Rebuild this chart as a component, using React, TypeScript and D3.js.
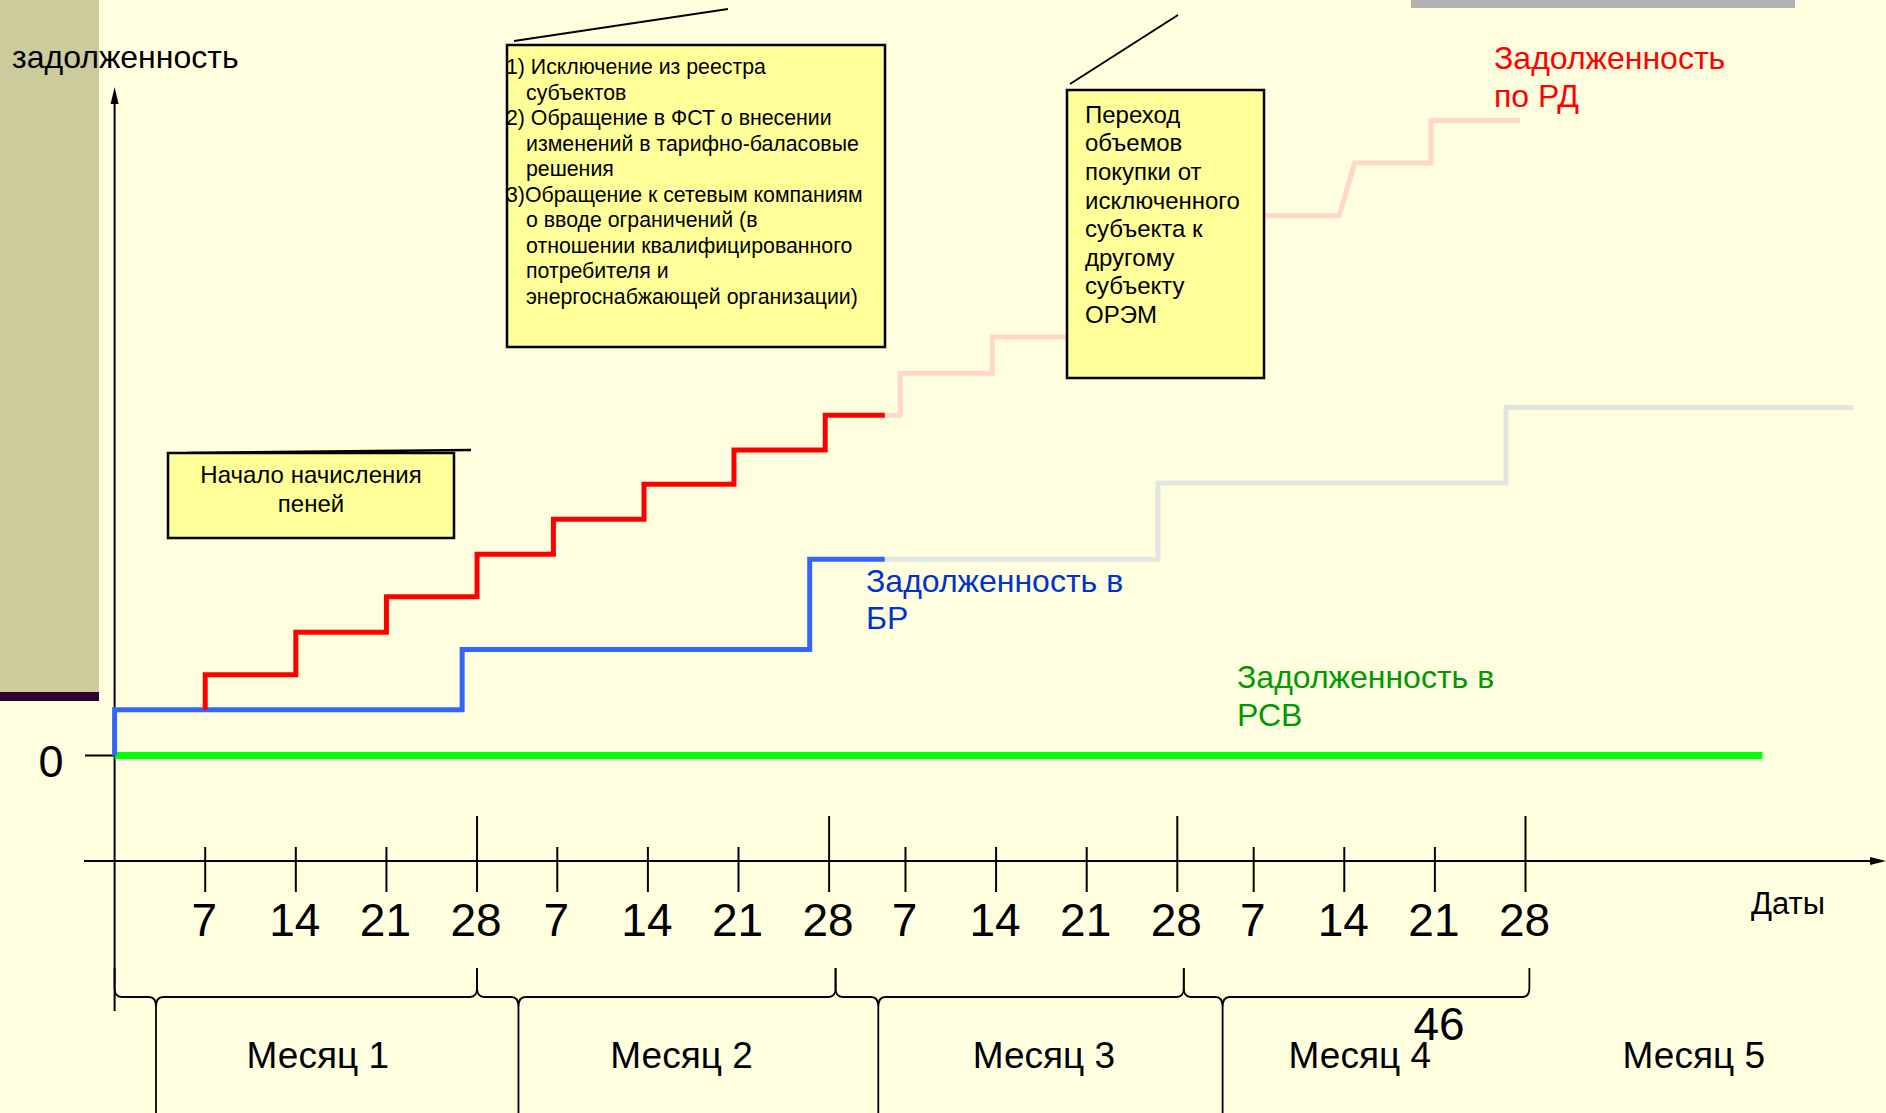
import React from 'react';
import * as d3 from 'd3';

const W = 1886;
const H = 1113;
const FONT = '"Liberation Sans", Arial, sans-serif';

// ---- timeline (in days) ----
const monthOffsets = [0, 27.2, 54.1, 81];
const weekDays = [7, 14, 21, 28];
const monthNames = ['Месяц 1', 'Месяц 2', 'Месяц 3', 'Месяц 4', 'Месяц 5'];
const monthLabelDays = [15.7, 43.8, 71.8, 96.2, 122];
const braceStart = [0, 28, 55.7, 82.6];
const braceEnd = [28, 55.7, 82.6, 109.3];
const braceTip = [3.2, 31.2, 59, 85.6];

// ---- series (debt level, arbitrary units) ----
const rdDays = [7, 7, 14, 21, 28, 33.9, 40.9, 47.85, 54.9, 59.5];
const rdValues = [7.2, 12.7, 19.4, 25.0, 31.7, 37.2, 42.7, 48.1, 53.6, 53.6];
const rdForecastDays = [59.5, 60.7, 60.7, 67.8, 67.8, 75, 75, 82, 82, 88, 88, 94.6, 95.8, 101.7, 101.7, 108.6];
const rdForecastValues = [53.6, 53.6, 60.2, 60.2, 65.9, 65.9, 72, 72, 78, 78, 85, 85, 93.3, 93.3, 100, 100];
const brDays = [0, 0, 26.85, 53.7, 59.5];
const brValues = [0, 7.2, 16.7, 30.9, 30.9];
const brForecastDays = [59.5, 80.6, 107.5, 134.3];
const brForecastValues = [30.9, 42.9, 54.8, 54.8];
const rsvDays = [0, 127.3];
const rsvValues = [0, 0];

const box1Lines = [
  { t: '1) Исключение из реестра', indent: false },
  { t: 'субъектов', indent: true },
  { t: '2) Обращение в ФСТ о внесении', indent: false },
  { t: 'изменений в тарифно-баласовые', indent: true },
  { t: 'решения', indent: true },
  { t: '3)Обращение к сетевым компаниям', indent: false },
  { t: 'о вводе ограничений (в', indent: true },
  { t: 'отношении квалифицированного', indent: true },
  { t: 'потребителя и', indent: true },
  { t: 'энергоснабжающей организации)', indent: true },
];
const box2Lines = ['Переход', 'объемов', 'покупки от', 'исключенного', 'субъекта к', 'другому', 'субъекту', 'ОРЭМ'];
const box3Lines = ['Начало начисления', 'пеней'];

const x = d3.scaleLinear().domain([0, 109]).range([114.6, 1525.5]);
const y = d3.scaleLinear().domain([0, 100]).range([755.5, 120.5]);

const zip = (a: number[], b: number[]) => a.map((d, i) => [d, b[i]] as [number, number]);
const stepLine = d3.line<[number, number]>().x(d => x(d[0])).y(d => y(d[1])).curve(d3.curveStepAfter);
const linLine = d3.line<[number, number]>().x(d => x(d[0])).y(d => y(d[1]));

function bracePath(x0: number, x1: number, tip: number) {
  const top = 968, mid = 997, bot = 1113;
  return `M${x0},${top} L${x0},${mid - 9} Q${x0},${mid} ${x0 + 7},${mid} L${tip - 7},${mid} Q${tip},${mid} ${tip},${mid + 10} L${tip},${bot} ` +
    `M${tip},${mid + 10} Q${tip},${mid} ${tip + 7},${mid} L${x1 - 7},${mid} Q${x1},${mid} ${x1},${mid - 9} L${x1},${top}`;
}

export default function App() {
  const x0 = x(0);
  const axisY = 861;
  return (
    <svg width={W} height={H} style={{ position: 'absolute', left: 0, top: 0, display: 'block' }} fontFamily={FONT}>
      <rect x={0} y={0} width={W} height={H} fill="#ffffe0" />
      <rect x={0} y={0} width={99} height={692} fill="#cccb9c" />
      <rect x={0} y={692} width={99} height={9} fill="#330033" />
      <rect x={1411} y={0} width={384} height={8} fill="#b2b2b2" />

      <text x={12} y={68} fontSize={32} fill="#000">задолженность</text>

      {/* y axis */}
      <line x1={x0} y1={100} x2={x0} y2={1011} stroke="#000" strokeWidth={2} />
      <path d={`M${x0 - 4},${104} L${x0},${87} L${x0 + 4},${104} Z`} fill="#000" />
      {/* zero tick */}
      <line x1={85} y1={y(0)} x2={x0} y2={y(0)} stroke="#000" strokeWidth={2} />
      <text x={51} y={777} fontSize={45} textAnchor="middle">0</text>

      {/* x axis */}
      <line x1={84} y1={axisY} x2={1872} y2={axisY} stroke="#000" strokeWidth={2} />
      <path d={`M${1870},${axisY - 4} L${1886},${axisY} L${1870},${axisY + 4} Z`} fill="#000" />
      {monthOffsets.map(m => weekDays.map(d => {
        const px = x(m + d);
        const isMonth = d === 28;
        return (
          <g key={`${m}-${d}`}>
            <line x1={px} x2={px} y1={isMonth ? 816 : 847} y2={892} stroke="#000" strokeWidth={2} />
            <text x={px - 1} y={936} fontSize={46} textAnchor="middle">{d}</text>
          </g>
        );
      }))}
      <text x={1751} y={914} fontSize={31}>Даты</text>

      {/* braces */}
      {braceStart.map((s, i) => (
        <path key={i} d={bracePath(x(s), x(braceEnd[i]), x(braceTip[i]))} fill="none" stroke="#000" strokeWidth={1.8} />
      ))}
      {monthNames.map((n, i) => (
        <text key={n} x={x(monthLabelDays[i])} y={1068} fontSize={37} textAnchor="middle">{n}</text>
      ))}
      <text x={1439} y={1040} fontSize={46} textAnchor="middle">46</text>

      {/* series */}
      <path d={stepLine(zip(brForecastDays, brForecastValues)) || ''} fill="none" stroke="#e1e6e3" strokeWidth={5} />
      <path d={linLine(zip(rdForecastDays, rdForecastValues)) || ''} fill="none" stroke="#ffd8c8" strokeWidth={5} />
      <path d={stepLine(zip(rsvDays, rsvValues)) || ''} fill="none" stroke="#00ff00" strokeWidth={7} />
      <path d={stepLine(zip(brDays, brValues)) || ''} fill="none" stroke="#3366ff" strokeWidth={5} />
      <path d={stepLine(zip(rdDays, rdValues)) || ''} fill="none" stroke="#ff0000" strokeWidth={5} />

      {/* series labels */}
      <text x={866} y={592} fontSize={32} fill="#0033cc">Задолженность в</text>
      <text x={866} y={629} fontSize={32} fill="#0033cc">БР</text>
      <text x={1237} y={688} fontSize={32} fill="#009900">Задолженность в</text>
      <text x={1237} y={726} fontSize={32} fill="#009900">РСВ</text>
      <text x={1494} y={69} fontSize={32} fill="#ff0000">Задолженность</text>
      <text x={1494} y={107} fontSize={32} fill="#ff0000">по РД</text>

      {/* box 1 */}
      <line x1={514} y1={41} x2={728} y2={9} stroke="#000" strokeWidth={2} />
      <rect x={507} y={45} width={378} height={302} fill="#ffff99" stroke="#000" strokeWidth={2.5} />
      {box1Lines.map((l, i) => (
        <text key={i} x={l.indent ? 526 : 506} y={74 + i * 25.5} fontSize={21.3}>{l.t}</text>
      ))}

      {/* box 2 */}
      <line x1={1070} y1={84} x2={1178} y2={15} stroke="#000" strokeWidth={2} />
      <rect x={1067} y={90} width={197} height={288} fill="#ffff99" stroke="#000" strokeWidth={2.5} />
      {box2Lines.map((l, i) => (
        <text key={i} x={1085} y={122.7 + i * 28.6} fontSize={24}>{l}</text>
      ))}

      {/* box 3 */}
      <line x1={186} y1={453} x2={471} y2={450} stroke="#000" strokeWidth={2.5} />
      <rect x={168} y={453} width={286} height={85} fill="#ffff99" stroke="#000" strokeWidth={2.5} />
      {box3Lines.map((l, i) => (
        <text key={i} x={311} y={483 + i * 29} fontSize={24} textAnchor="middle">{l}</text>
      ))}
    </svg>
  );
}
